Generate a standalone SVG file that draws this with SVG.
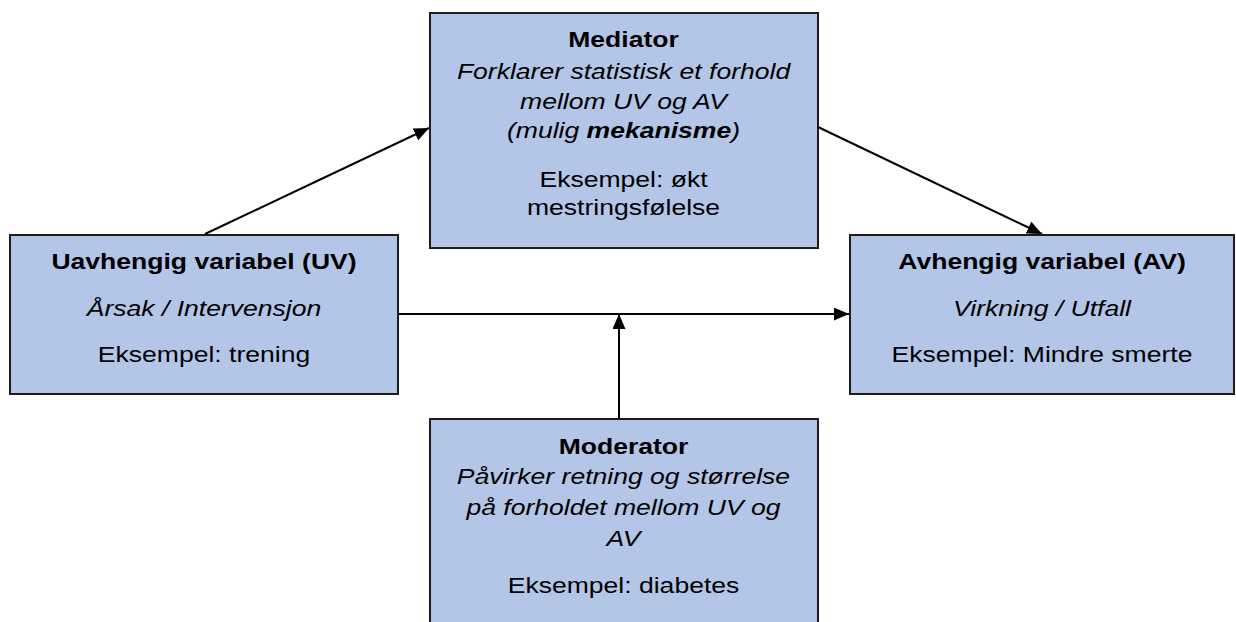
<svg xmlns="http://www.w3.org/2000/svg" width="1236" height="622" viewBox="0 0 1236 622">
  <style>
    .box { fill: #b4c6e7; stroke: #1c1c1c; stroke-width: 2; }
    .edge { fill: none; stroke: #000; stroke-width: 2; }
    text { font-family: "Liberation Sans", Arial, sans-serif; font-size: 22.5px; fill: #000; text-anchor: middle; }
    .b { font-weight: bold; }
    .i { font-style: italic; }
  </style>
  <defs>
    <marker id="arrow" markerUnits="userSpaceOnUse" markerWidth="16" markerHeight="14" refX="15" refY="6.5" orient="auto">
      <path d="M0,0 L15,6.5 L0,13 Z" fill="#000"/>
    </marker>
  </defs>

  <!-- connectors -->
  <g id="connectors">
    <line class="edge" x1="205" y1="234" x2="429" y2="128" marker-end="url(#arrow)"/>
    <line class="edge" x1="818" y1="127" x2="1042" y2="234" marker-end="url(#arrow)"/>
    <line class="edge" x1="398" y1="314" x2="849" y2="314" marker-end="url(#arrow)"/>
    <line class="edge" x1="619" y1="418" x2="619" y2="314" marker-end="url(#arrow)"/>
  </g>

  <!-- mediator -->
  <g id="mediator">
    <rect class="box" x="430" y="13" width="388" height="235"/>
    <g transform="translate(623.5,0) scale(1.18,1)">
      <text class="b" x="0" y="47">Mediator</text>
      <text class="i" x="0" y="79">Forklarer statistisk et forhold</text>
      <text class="i" x="0" y="109">mellom UV og AV</text>
      <text class="i" x="0" y="138">(mulig <tspan class="b">mekanisme</tspan>)</text>
      <text x="0" y="187">Eksempel: økt</text>
      <text x="0" y="215">mestringsfølelse</text>
    </g>
  </g>

  <!-- independent variable -->
  <g id="uv">
    <rect class="box" x="10" y="235" width="388" height="159"/>
    <g transform="translate(204,0) scale(1.18,1)">
      <text class="b" x="0" y="269">Uavhengig variabel (UV)</text>
      <text class="i" x="0" y="316">Årsak / Intervensjon</text>
      <text x="0" y="362">Eksempel: trening</text>
    </g>
  </g>

  <!-- dependent variable -->
  <g id="av">
    <rect class="box" x="850" y="235" width="384" height="159"/>
    <g transform="translate(1042,0) scale(1.18,1)">
      <text class="b" x="0" y="269">Avhengig variabel (AV)</text>
      <text class="i" x="0" y="316">Virkning / Utfall</text>
      <text x="0" y="362">Eksempel: Mindre smerte</text>
    </g>
  </g>

  <!-- moderator -->
  <g id="moderator">
    <rect class="box" x="430" y="419" width="388" height="220"/>
    <g transform="translate(623.5,0) scale(1.18,1)">
      <text class="b" x="0" y="454">Moderator</text>
      <text class="i" x="0" y="484">Påvirker retning og størrelse</text>
      <text class="i" x="0" y="515">på forholdet mellom UV og</text>
      <text class="i" x="0" y="546">AV</text>
      <text x="0" y="593">Eksempel: diabetes</text>
    </g>
  </g>
</svg>
